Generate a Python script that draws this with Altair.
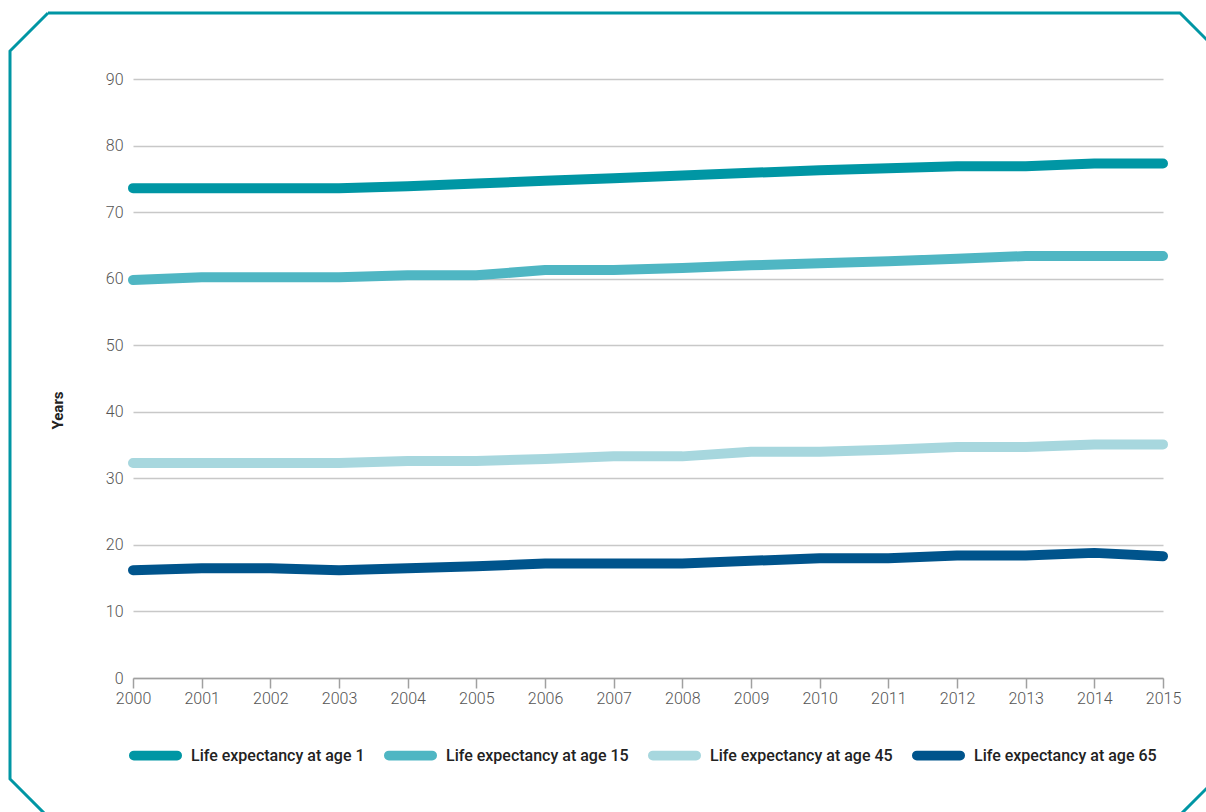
import altair as alt
import pandas as pd

# Life expectancy by age reached, 2000-2015
YEARS = list(range(2000, 2016))
SERIES = [
    "Life expectancy at age 1",
    "Life expectancy at age 15",
    "Life expectancy at age 45",
    "Life expectancy at age 65",
]
AGE_1 = [73.6, 73.6, 73.6, 73.6, 73.9, 74.3, 74.7, 75.1, 75.5, 75.9, 76.3, 76.6, 76.9, 76.9, 77.3, 77.3]
AGE_15 = [59.8, 60.2, 60.2, 60.2, 60.5, 60.5, 61.3, 61.3, 61.6, 62.0, 62.3, 62.6, 63.0, 63.4, 63.4, 63.4]
AGE_45 = [32.3, 32.3, 32.3, 32.3, 32.6, 32.6, 32.9, 33.3, 33.3, 34.0, 34.0, 34.3, 34.7, 34.7, 35.1, 35.1]
AGE_65 = [16.2, 16.5, 16.5, 16.2, 16.5, 16.8, 17.2, 17.2, 17.2, 17.6, 18.0, 18.0, 18.4, 18.4, 18.8, 18.3]
COLORS = ["#0096a4", "#4fb6c3", "#a7d7de", "#00548c"]

# Decorative panel outline with clipped corners (page pixels)
FRAME_X = [48, 1180, 1209, 1209, 1181, 45, 10, 10, 48]
FRAME_Y = [13, 13, 42, 786, 814, 814, 779, 51, 13]

PAD_LEFT, PAD_TOP = 133, 79
W, H = 1030, 599

rows = []
for name, vals in zip(SERIES, [AGE_1, AGE_15, AGE_45, AGE_65]):
    for yr, v in zip(YEARS, vals):
        rows.append({"year": yr, "value": v, "series": name})
df = pd.DataFrame(rows)

frame_df = pd.DataFrame({
    "px": [x - PAD_LEFT for x in FRAME_X],
    "py": [y - PAD_TOP for y in FRAME_Y],
    "i": list(range(len(FRAME_X))),
})

FONT = "Roboto"
# pill-shaped legend swatch
PILL = "M-0.9,-0.1 L0.9,-0.1 A0.1,0.1 0 0 1 0.9,0.1 L-0.9,0.1 A0.1,0.1 0 0 1 -0.9,-0.1 Z"

lines = alt.Chart(df).mark_line(strokeWidth=10, strokeCap="round", strokeJoin="round").encode(
    x=alt.X("year:Q",
            scale=alt.Scale(domain=[2000, 2015], nice=False, zero=False),
            axis=alt.Axis(values=YEARS, format="d", title=None, grid=False,
                          domainColor="#a0a0a0", domainWidth=1.5,
                          tickColor="#a0a0a0", tickWidth=1.5, tickSize=10,
                          labelFlush=False, labelOverlap=False,
                          labelPadding=2, labelFontSize=16, labelColor="#555555",
                          labelFont=FONT, labelFontWeight=300)),
    y=alt.Y("value:Q",
            scale=alt.Scale(domain=[0, 90], nice=False),
            axis=alt.Axis(values=list(range(0, 91, 10)), title="Years",
                          titleFont=FONT, titleFontSize=15, titleFontWeight="bold",
                          titleColor="#222222", titlePadding=40, titleY=331,
                          grid=True, gridColor="#c8c8c8", gridWidth=1.5,
                          domain=False, ticks=False, labelPadding=10,
                          labelFontSize=16, labelColor="#555555",
                          labelFont=FONT, labelFontWeight=300)),
    color=alt.Color("series:N",
                    scale=alt.Scale(domain=SERIES, range=COLORS),
                    legend=alt.Legend(title=None, orient="none", direction="horizontal",
                                      columns=4, legendX=-4, legendY=650,
                                      symbolType=PILL, symbolSize=2304,
                                      symbolStrokeWidth=5, symbolOpacity=1,
                                      labelFont=FONT, labelFontSize=16,
                                      labelFontWeight=500, labelColor="#222222",
                                      labelOffset=9, columnPadding=11,
                                      labelLimit=400)),
)

frame = alt.Chart(frame_df).mark_line(strokeWidth=3, color="#0096a4", clip=False).encode(
    x=alt.X("px:Q", scale=None),
    y=alt.Y("py:Q", scale=None),
    order="i:Q",
)

chart = alt.layer(frame, lines).properties(
    width=W, height=H,
    autosize=alt.AutoSizeParams(type="none"),
    padding={"left": PAD_LEFT, "top": PAD_TOP, "right": 1206 - PAD_LEFT - W, "bottom": 812 - PAD_TOP - H},
    background="white",
).configure_view(stroke=None)

chart.save("out.html", embed_options={"renderer": "svg", "actions": False})
